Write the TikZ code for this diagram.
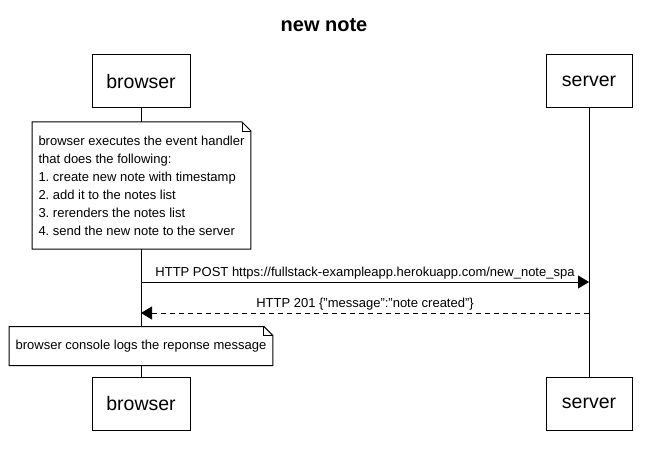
\documentclass[tikz,border=0pt]{standalone}
\usepackage{fontspec}
\setmainfont{Liberation Sans}
\usetikzlibrary{arrows.meta}
\frenchspacing

\begin{document}
\begin{tikzpicture}[x=1pt, y=-1pt, line width=1pt,
        actor/.style={draw, fill=white, minimum height=53pt, inner sep=0pt, font=\fontsize{19.5}{22}\selectfont},
        note/.style={fill=white, inner xsep=6pt, inner ysep=0pt, align=left, font=\fontsize{13}{18}\selectfont},
        msg/.style={-{Triangle[length=11pt, width=13pt]}},
        reply/.style={msg, dash pattern=on 5pt off 4pt},
        label/.style={above=1pt, inner sep=1pt, font=\fontsize{13}{15}\selectfont}]
        \useasboundingbox (0,0) rectangle (647,454);

        \node[font=\fontsize{20}{24}\selectfont\bfseries] (title) at (324,25) {new note};

        \node[actor, minimum width=98pt] (browserTop) at (141,81.5) {browser};
        \node[actor, minimum width=86pt] (serverTop) at (589,81.5) {server};
        \node[actor, minimum width=98pt] (browserBot) at (141,403.5) {browser};
        \node[actor, minimum width=86pt] (serverBot) at (589,403.5) {server};

        \draw (browserTop) -- (browserBot);
        \draw (serverTop) -- (serverBot);

        \node[note, anchor=north west, minimum height=126pt] (handler) at (32,122) {browser executes the event handler\\
            that does the following:\\
            1. create new note with timestamp\\
            2. add it to the notes list\\
            3. rerenders the notes list\\
            4. send the new note to the server};
        \node[note, minimum width=260pt, minimum height=38pt] (console) at (141,346) {browser console logs the reponse message};

        \foreach \n in {handler, console} {
            \draw (\n.north west) -- ([xshift=-9pt]\n.north east) -- ([yshift=-9pt]\n.north east) -- (\n.south east) -- (\n.south west) -- cycle;
            \draw[line width=0.8pt] ([xshift=-9pt]\n.north east) |- ([yshift=-9pt]\n.north east);
        }

        \coordinate (postB) at (browserTop |- 0,282);
        \coordinate (postS) at (serverTop |- 0,282);
        \coordinate (okB) at (browserTop |- 0,313);
        \coordinate (okS) at (serverTop |- 0,313);

        \draw[msg] (postB) -- node[label] {HTTP POST https://fullstack-exampleapp.herokuapp.com/new\_note\_spa} (postS);
        \draw[reply] (okS) -- node[label] {HTTP 201 \{"message":"note created"\}} (okB);

%        \draw[densely dotted] (browserTop) -- (serverTop);
\end{tikzpicture}
\end{document}
